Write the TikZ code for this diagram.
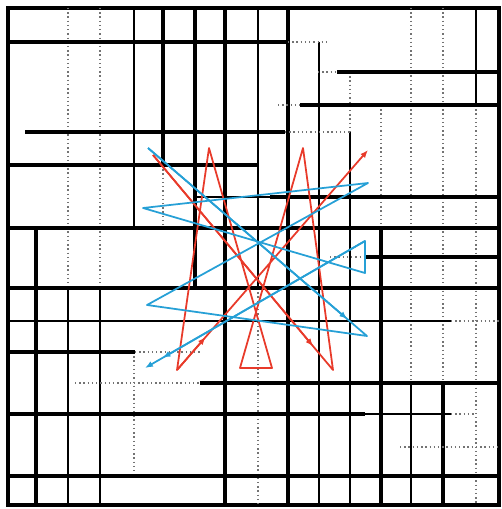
\documentclass[tikz,border=0pt]{standalone}
\usetikzlibrary{arrows.meta,calc}
\definecolor{trajred}{RGB}{232,58,42}
\definecolor{trajblue}{RGB}{38,160,214}

\begin{document}
\begin{tikzpicture}[x=0.02cm,y=-0.02cm,>=Latex,
heavy/.style={line width=2pt},
medium/.style={line width=1.3pt},
light/.style={line width=0.8pt},
faint/.style={line width=0.6pt, black!55, dash pattern=on 0.8pt off 1.6pt},
redpath/.style={trajred, line width=1pt, line join=round},
bluepath/.style={trajblue, line width=1pt, line join=round},
tip/.style={-{Latex[length=4.5pt,width=3.5pt]}}]
\useasboundingbox (0,0) rectangle (502,509);
% frame
\draw[heavy] (8,8) rectangle (499,505);
% vertical cuts (x/from/to)
\foreach \x/\a/\b in {36/228/505, 163/8/165, 195/8/288, 225/8/505, 288/8/505, 381/228/505, 443/383/505}
  \draw[heavy] (\x,\a) -- (\x,\b);
\foreach \x/\a/\b in {68/288/505, 100/288/505, 258/8/288, 319/132/505, 350/132/505, 411/383/505, 476/8/105}
  \draw[medium] (\x,\a) -- (\x,\b);
\foreach \x/\a/\b in {134/8/228, 319/42/132}
  \draw[light] (\x,\a) -- (\x,\b);
\foreach \x/\a/\b in {68/8/288, 100/8/288, 134/352/476, 163/165/228, 258/288/505, 350/72/132, 381/105/228, 411/8/383, 443/8/383, 476/105/505}
  \draw[faint] (\x,\a) -- (\x,\b);
% horizontal cuts (y/from/to)
\foreach \y/\a/\b in {42/8/288, 72/337/499, 105/300/499, 132/25/285, 165/8/258, 197/270/499, 228/8/499, 257/365/499, 288/8/499, 352/8/135, 383/200/499, 414/8/365, 476/8/499}
  \draw[heavy] (\a,\y) -- (\b,\y);
\foreach \y/\a/\b in {321/8/451, 197/195/270}
  \draw[medium] (\a,\y) -- (\b,\y);
\foreach \y/\a/\b in {414/365/451}
  \draw[light] (\a,\y) -- (\b,\y);
\foreach \y/\a/\b in {42/288/330, 72/318/337, 105/278/300, 132/285/350, 257/330/365, 321/451/499, 352/135/200, 383/75/200, 414/451/475, 447/400/499}
  \draw[faint] (\a,\y) -- (\b,\y);
% red trajectory
\coordinate (r0) at (153,155);
\coordinate (r1) at (333,370);
\coordinate (r2) at (303,148);
\coordinate (r3) at (240,368);
\coordinate (r4) at (272,368);
\coordinate (r5) at (209,148);
\coordinate (r6) at (177,370);
\coordinate (r7) at (368,150);
\draw[redpath,tip] (r0) -- (r1) -- (r2) -- (r3) -- (r4) -- (r5) -- (r6) -- (r7);
\draw[redpath,tip] (r0) -- ($(r0)!0.89!(r1)$);
\draw[redpath,tip] (r6) -- ($(r6)!0.15!(r7)$);
% blue trajectory
\coordinate (b0) at (148,148);
\coordinate (b1) at (367,336);
\coordinate (b2) at (147,305);
\coordinate (b3) at (368,183);
\coordinate (b4) at (143,208);
\coordinate (b5) at (365,273);
\coordinate (b6) at (365,241);
\coordinate (b7) at (145,368);
\draw[bluepath,tip] (b0) -- (b1) -- (b2) -- (b3) -- (b4) -- (b5) -- (b6) -- (b7);
\draw[bluepath,tip] (b0) -- ($(b0)!0.91!(b1)$);
\draw[bluepath,tip] (b6) -- ($(b6)!0.92!(b7)$);
\end{tikzpicture}
\end{document}
